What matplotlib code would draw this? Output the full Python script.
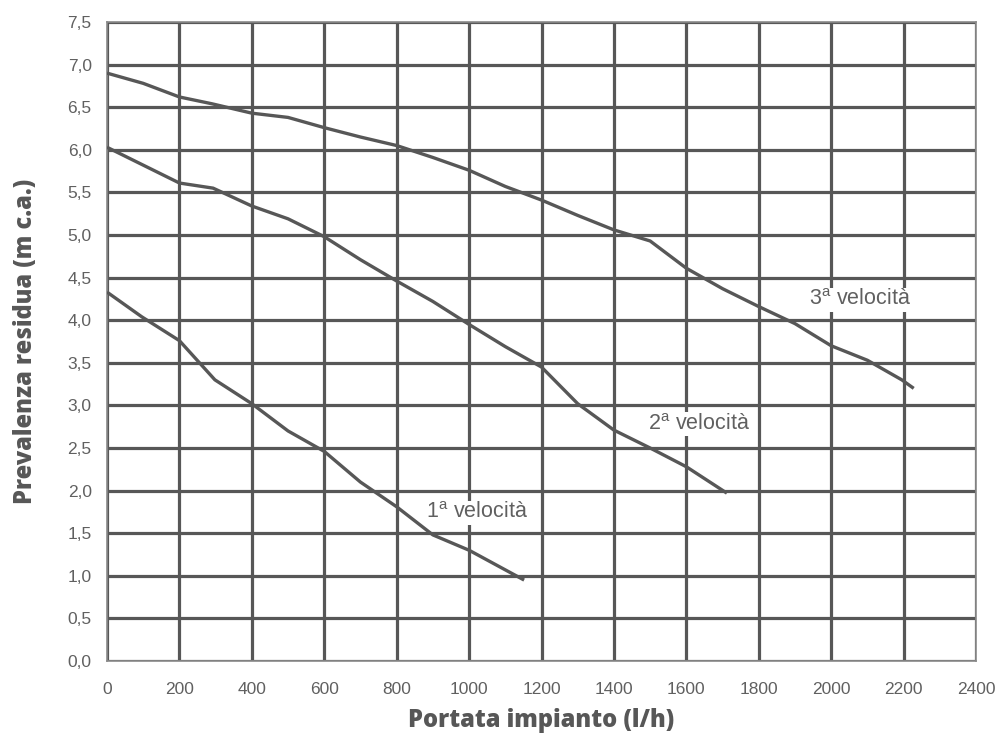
import matplotlib.pyplot as plt
from matplotlib.ticker import FuncFormatter, MultipleLocator

plt.rcParams['font.family'] = ['Liberation Sans', 'DejaVu Sans']
plt.rcParams['mathtext.fontset'] = 'custom'
plt.rcParams['mathtext.rm'] = 'Liberation Sans'

# Curve data (portata l/h, prevalenza m c.a.)
v3_x = [0, 100, 200, 290, 400, 500, 600, 700, 800, 900, 1000, 1100, 1200, 1300, 1400, 1500,
        1600, 1700, 1800, 1900, 2000, 2100, 2195, 2228]
v3_y = [6.90, 6.78, 6.62, 6.54, 6.43, 6.38, 6.26, 6.15, 6.05, 5.91, 5.76, 5.57, 5.41, 5.23, 5.06, 4.93,
        4.61, 4.37, 4.16, 3.96, 3.70, 3.53, 3.30, 3.20]

v2_x = [0, 200, 293, 400, 500, 600, 700, 800, 900, 1000, 1100, 1200, 1300, 1400, 1500, 1600, 1712]
v2_y = [6.03, 5.61, 5.55, 5.34, 5.19, 4.98, 4.71, 4.46, 4.22, 3.95, 3.69, 3.45, 3.02, 2.71, 2.50, 2.28, 1.97]

v1_x = [0, 96, 200, 298, 400, 500, 600, 700, 800, 900, 1000, 1152]
v1_y = [4.33, 4.04, 3.76, 3.30, 3.02, 2.70, 2.46, 2.10, 1.81, 1.48, 1.30, 0.95]

labels = ['1$^\\mathrm{a}$ velocità', '2$^\\mathrm{a}$ velocità', '3$^\\mathrm{a}$ velocità']
label_pos = [(1022, 1.74), (1636, 2.78), (2080, 4.24)]

dark = '#575757'
text_gray = '#606060'

fig = plt.figure(figsize=(9.96, 7.38), dpi=100)
ax = fig.add_axes([107 / 996, (738 - 661) / 738, (976 - 107) / 996, (661 - 22) / 738])

ax.set_xlim(0, 2400)
ax.set_ylim(0, 7.5)
ax.xaxis.set_major_locator(MultipleLocator(200))
ax.yaxis.set_major_locator(MultipleLocator(0.5))
ax.yaxis.set_major_formatter(FuncFormatter(lambda v, p: f'{v:.1f}'.replace('.', ',')))
ax.xaxis.set_major_formatter(FuncFormatter(lambda v, p: f'{v:.0f}'))

ax.grid(True, color=dark, linewidth=2.3, zorder=1)
ax.set_axisbelow(True)
for s in ax.spines.values():
    s.set_color('#8a8a8a')
    s.set_linewidth(1.2)
    s.set_zorder(3)

ax.tick_params(length=0, labelsize=12.5, labelcolor=text_gray)
ax.tick_params(axis='x', pad=15)
ax.tick_params(axis='y', pad=11)

for xs, ys in [(v1_x, v1_y), (v2_x, v2_y), (v3_x, v3_y)]:
    ax.plot(xs, ys, color=dark, linewidth=2.4, solid_capstyle='butt', zorder=4)

for txt, (tx, ty) in zip(labels, label_pos):
    ax.text(tx, ty, txt, ha='center', va='center', fontsize=15.5, color=text_gray,
            bbox=dict(facecolor='white', edgecolor='none', pad=1.0), zorder=5)

ax.set_xlabel('Portata impianto (l/h)', fontsize=17, fontweight='heavy', color=dark,
              family='Open Sans', labelpad=8)
ax.set_ylabel('Prevalenza residua (m c.a.)', fontsize=17, fontweight='heavy', color=dark,
              family='Open Sans', labelpad=21)

fig.savefig('out.png', dpi=100)
